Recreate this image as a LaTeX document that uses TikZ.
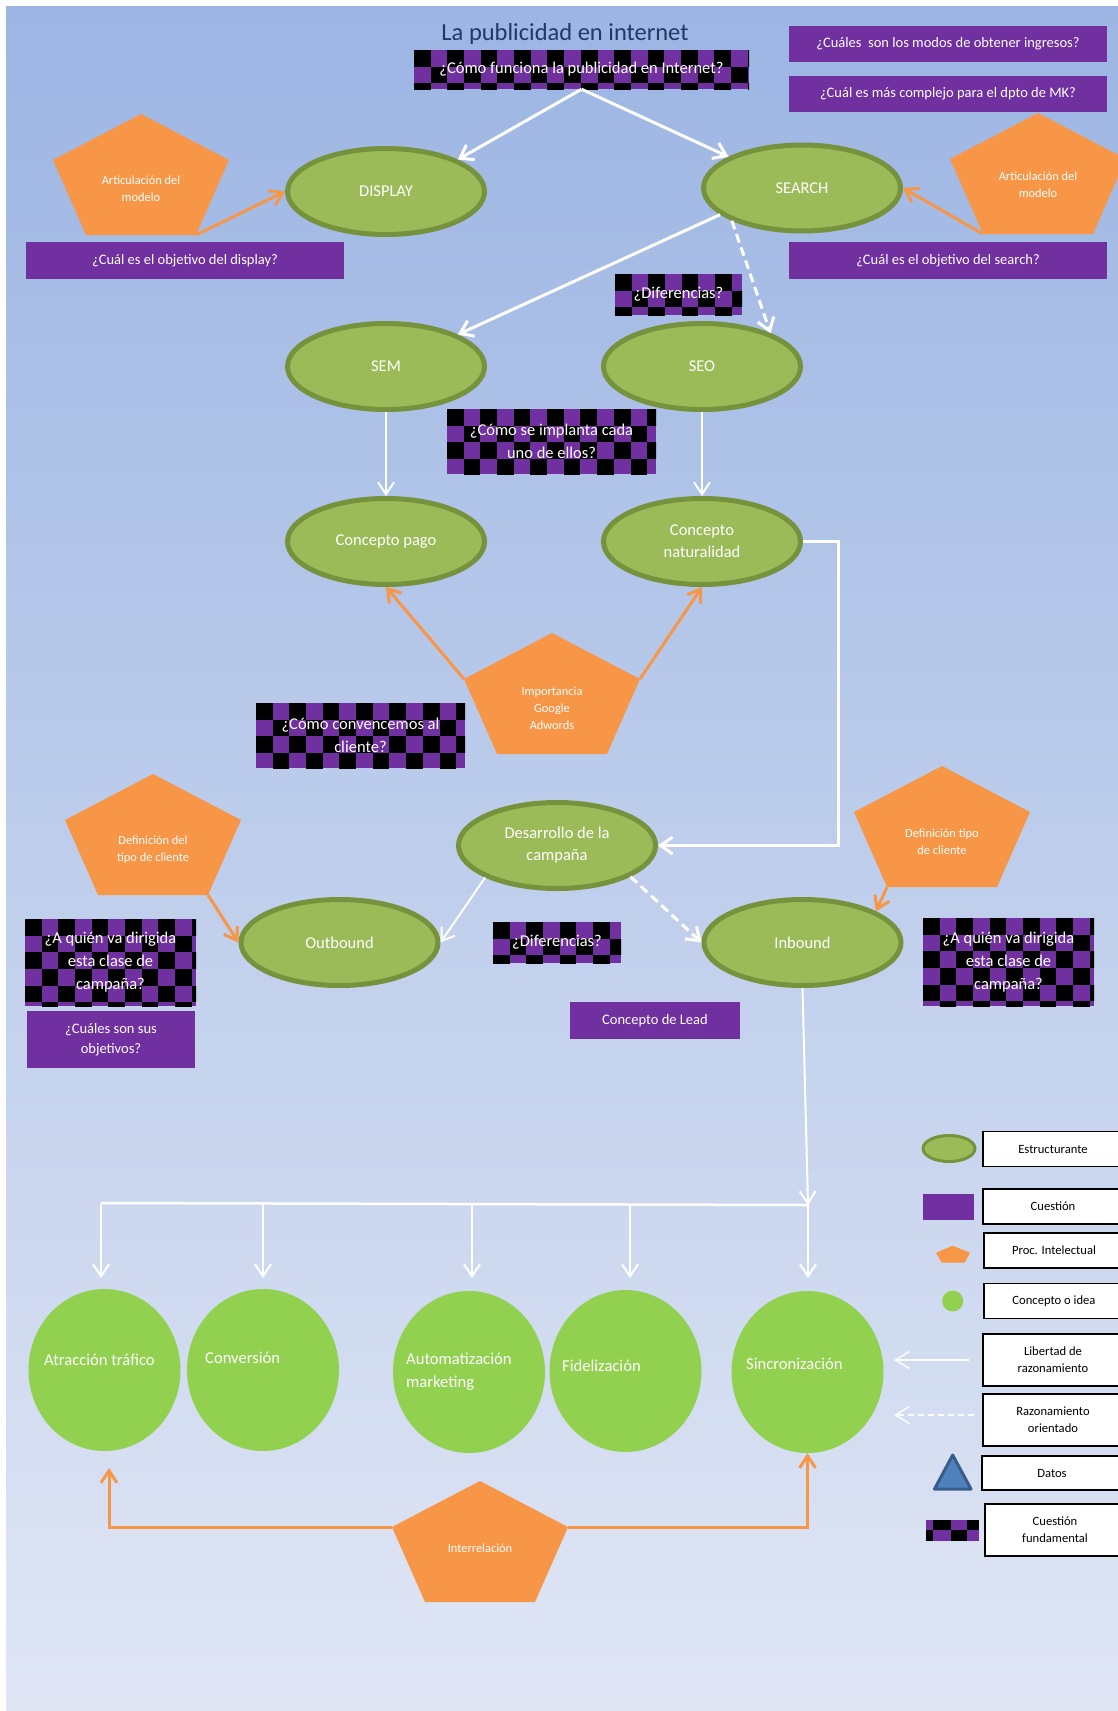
\documentclass[tikz,border=0pt]{standalone}
\usepackage{fontspec}
\setmainfont{Carlito}
\usetikzlibrary{shapes.geometric,arrows.meta,calc}
\definecolor{qpurple}{HTML}{7030A0}
\definecolor{qorange}{HTML}{F79646}
\definecolor{egreen}{HTML}{9BBB59}
\definecolor{eborder}{HTML}{76923C}
\definecolor{cgreen}{HTML}{92D050}
\definecolor{titleblue}{HTML}{1F3864}
\definecolor{bgtop}{HTML}{9CB5E3}
\definecolor{bgbot}{HTML}{E0E6F4}
\definecolor{tblue}{HTML}{4F81BD}
\definecolor{tborder}{HTML}{385D8A}

\pgfdeclarelayer{chklayer}
\pgfsetlayers{chklayer,main}

\newcommand\chk[1]{%
  \begin{pgfonlayer}{chklayer}
  \begin{scope}
  \clip (#1.north west) rectangle (#1.south east);
  \fill[qpurple] (#1.north west) rectangle (#1.south east);
  \foreach \i in {0,...,20}{\foreach \j in {0,...,5}{%
     \pgfmathtruncatemacro\cpar{mod(\i+\j,2)}%
     \ifnum\cpar=0\relax \fill[black] ($(#1.north west)+(\i*16.7,\j*16.7)$) rectangle ++(16.7,16.7);\fi
  }}
  \end{scope}
  \end{pgfonlayer}}

\tikzset{
  struct/.style={ellipse, fill=egreen, draw=eborder, line width=5pt,
    minimum width=197pt, minimum height=86pt, inner sep=0pt, text=white,
    align=center, font=\fontsize{16.5}{22}\selectfont},
  idea/.style={ellipse, fill=cgreen, minimum width=152pt, minimum height=162pt, inner sep=0pt},
  ideatext/.style={anchor=west, inner sep=0pt, text=white, align=left,
    font=\fontsize{16.6}{23}\selectfont},
  qbox/.style={rectangle, fill=qpurple, inner sep=0pt, text=white, align=center,
    font=\fontsize{14.5}{19.5}\selectfont},
  qcheck/.style={rectangle, inner sep=0pt, text=white, align=center,
    font=\fontsize{16.5}{23}\selectfont},
  ptext/.style={text=white, align=center, inner sep=0pt, font=\fontsize{12.4}{16.8}\selectfont},
  legbox/.style={rectangle, draw=black, fill=white, line width=1.8pt, minimum width=140pt,
    inner sep=0pt, align=center, font=\fontsize{12.6}{17}\selectfont},
  wa/.style={white, line width=3pt, -{Straight Barb[length=12pt,width=17pt]}},
  wthin/.style={white, line width=2pt, -{Straight Barb[length=12pt,width=16pt]}},
  wdash/.style={white, line width=3pt, dash pattern=on 9pt off 5pt, -{Straight Barb[length=12pt,width=17pt]}},
  oa/.style={qorange, line width=3pt, -{Straight Barb[length=12pt,width=16pt]}},
  pics/penta/.style 2 args={code={
    \fill[qorange] (0,0) -- (88,46) -- (55,121) -- (-55,121) -- (-88,46) -- cycle;
    \coordinate (-t) at (0,0);
    \coordinate (-l) at (-88,46);
    \coordinate (-r) at (88,46);
    \coordinate (-bl) at (-55,121);
    \coordinate (-br) at (55,121);
    \node[ptext] (-txt) at (0,#2) {#1};
  }}
}

\begin{document}
\begin{tikzpicture}[x=1pt,y=-1pt]
\useasboundingbox (0,0) rectangle (1118,1711);
\clip (0,0) rectangle (1118,1711);
\begin{pgfonlayer}{chklayer}
\fill[white] (0,0) rectangle (1118,1711);
\shade[top color=bgtop, bottom color=bgbot] (6,6) rectangle (1118,1711);
\end{pgfonlayer}

% title
\node[text=titleblue, inner sep=0pt, font=\fontsize{24.5}{28}\selectfont] (title) at (565,34) {La publicidad en internet};

% purple question boxes
\node[qbox, minimum width=318pt, minimum height=36pt] (q1) at (948,44) {¿Cuáles\ \ son los modos de obtener ingresos?};
\node[qbox, minimum width=318pt, minimum height=36pt] (q2) at (948,94) {¿Cuál es más complejo para el dpto de MK?};
\node[qbox, minimum width=318pt, minimum height=37pt] (q3) at (185,260.5) {¿Cuál es el objetivo del display?};
\node[qbox, minimum width=318pt, minimum height=37pt] (q4) at (948,260.5) {¿Cuál es el objetivo del search?};
\node[qbox, minimum width=168pt, minimum height=57pt] (q5) at (111,1039.5) {¿Cuáles son sus\\objetivos?};
\node[qbox, minimum width=170pt, minimum height=37pt] (q6) at (655,1020.5) {Concepto de Lead};

% checkered fundamental questions
\node[qcheck, minimum width=335pt, minimum height=39pt] (kA) at (581.5,69.5) {¿Cómo funciona la publicidad en Internet?};
\node[qcheck, minimum width=127pt, minimum height=41pt] (kB) at (678.5,294.5) {¿Diferencias?};
\node[qcheck, minimum width=209pt, minimum height=65pt] (kC) at (551.5,441.5) {¿Cómo se implanta cada\\uno de ellos?};
\node[qcheck, minimum width=209pt, minimum height=65pt] (kD) at (360.5,735.5) {¿Cómo convencemos al\\cliente?};
\node[qcheck, minimum width=171pt, minimum height=87pt] (kE) at (110.5,962.5) {¿A quién va dirigida\\esta clase de\\campaña?};
\node[qcheck, minimum width=128pt, minimum height=41pt] (kF) at (557,942.5) {¿Diferencias?};
\node[qcheck, minimum width=171pt, minimum height=88pt] (kG) at (1008.5,962) {¿A quién va dirigida\\esta clase de\\campaña?};
\chk{kA}\chk{kB}\chk{kC}\chk{kD}\chk{kE}\chk{kF}\chk{kG}

% structuring ellipses
\node[struct] (display) at (386,191.5) {DISPLAY};
\node[struct] (search) at (802,188) {SEARCH};
\node[struct] (sem) at (386,366.5) {SEM};
\node[struct] (seo) at (702,366.5) {SEO};
\node[struct] (pago) at (386,541.5) {Concepto pago};
\node[struct] (natur) at (702,541.5) {Concepto\\naturalidad};
\node[struct] (desa) at (557,845.5) {Desarrollo de la\\campaña};
\node[struct] (outb) at (339.5,942.5) {Outbound};
\node[struct] (inb) at (802.5,942.5) {Inbound};

% pentagons
\pic (pA) at (141,114) {penta={Articulación del\\modelo}{74.5}};
\pic (pB) at (1038,113) {penta={Articulación del\\modelo}{71.5}};
\pic (pC) at (552,633) {penta={Importancia\\Google\\Adwords}{75}};
\pic (pD) at (153,774) {penta={Definición del\\tipo de cliente}{75.5}};
\pic (pE) at (942,766) {penta={Definición tipo\\de cliente}{75.5}};
\pic (pF) at (480,1481) {penta={Interrelación}{67}};

% idea circles
\node[idea] (c1) at (104.5,1370) {};
\node[idea] (c2) at (263,1370) {};
\node[idea] (c3) at (469,1372) {};
\node[idea] (c4) at (625.5,1371) {};
\node[idea] (c5) at (807.5,1372) {};
\node[ideatext] (t1) at (44,1360) {Atracción tráfico};
\node[ideatext] (t2) at (205,1358) {Conversión};
\node[ideatext] (t3) at (406,1371.5) {Automatización\\marketing};
\node[ideatext] (t4) at (562,1366) {Fidelización};
\node[ideatext] (t5) at (746,1364) {Sincronización};

% white connectors
\draw[wa] (kA.south) -- (display.24);
\draw[wa] (kA.south) -- (search.157);
\draw[wa] (search.198) -- (sem.24);
\draw[wdash] (search.205) -- (seo.26);
\draw[wthin] (sem.south) -- (pago.north);
\draw[wthin] (seo.south) -- (natur.north);
\draw[wa] (natur.east) -- ++(35,0) |- (desa.east);
\draw[wthin] (desa.204) -- (outb.east);
\draw[wdash] (desa.337) -- (inb.west);

% bus to idea circles
\coordinate (bL) at (101,1203);
\coordinate (bR) at (808,1205);
\draw[wthin] (inb.south) -- (bR);
\draw[white, line width=2.5pt] (bL) -- (bR);
\foreach \x/\n in {101/1,263/2,472/3,630/4,808/5}{
  \coordinate (d\n) at (\x,1204);
  \coordinate (e\n) at (\x,1278);
  \draw[wthin] (d\n) -- (e\n);
}

% orange connectors
\draw[oa] (pA-br) -- (display.west);
\draw[oa] (pB-bl) -- (search.east);
\draw[oa] (pC-l) -- (pago.south);
\draw[oa] (pC-r) -- (natur.south);
\draw[oa] (pD-br) -- (outb.west);
\draw[oa] (pE-bl) -- (inb.23);
\coordinate (iL) at (109,1468);
\draw[oa] (pF-l) -| (iL);
\draw[oa] (pF-r) -| (c5.south);

% legend
\node[ellipse, fill=egreen, draw=eborder, line width=3pt, minimum width=52pt, minimum height=26pt, inner sep=0pt] (lgE) at (949,1148.5) {};
\node[legbox, minimum height=35pt] (lb1) at (1053,1149) {Estructurante};
\fill[qpurple] (922.7,1194) rectangle (974,1220);
\node[legbox, minimum height=35pt] (lb2) at (1053,1206.5) {Cuestión};
\fill[qorange] (952.7,1245.7) -- (970,1252.7) -- (964.7,1262.7) -- (941.7,1262.7) -- (936,1252.7) -- cycle;
\node[legbox, minimum height=35pt] (lb3) at (1054,1250.5) {Proc. Intelectual};
\node[circle, fill=cgreen, minimum size=21pt, inner sep=0pt] (lgC) at (952.7,1301) {};
\node[legbox, minimum height=35pt] (lb4) at (1054,1301) {Concepto o idea};
\coordinate (la1s) at (969,1360);
\coordinate (la1e) at (894,1360);
\draw[white, line width=1.5pt, -{Straight Barb[length=14pt,width=17pt]}] (la1s) -- (la1e);
\node[legbox, minimum height=52pt] (lb5) at (1053,1360) {Libertad de\\razonamiento};
\coordinate (la2s) at (974,1415);
\coordinate (la2e) at (894,1415);
\draw[white, line width=1.5pt, dash pattern=on 6pt off 4pt, -{Straight Barb[length=14pt,width=17pt]}] (la2s) -- (la2e);
\node[legbox, minimum height=52pt] (lb6) at (1053,1420) {Razonamiento\\orientado};
\draw[fill=tblue, draw=tborder, line width=3pt, line join=round] (952.7,1455) -- (971,1489) -- (934.5,1489) -- cycle;
\node[legbox, minimum height=34pt] (lb7) at (1052,1473) {Datos};
\fill[qpurple] (926,1520) rectangle (979,1540.7);
\fill[black] (933.3,1520) rectangle (951,1530.3);
\fill[black] (967,1520) rectangle (979,1530.3);
\fill[black] (926,1530.3) rectangle (933.3,1540.7);
\fill[black] (951,1530.3) rectangle (967,1540.7);
\node[legbox, minimum height=52pt] (lb8) at (1055,1530) {Cuestión\\fundamental};
\end{tikzpicture}
\end{document}
